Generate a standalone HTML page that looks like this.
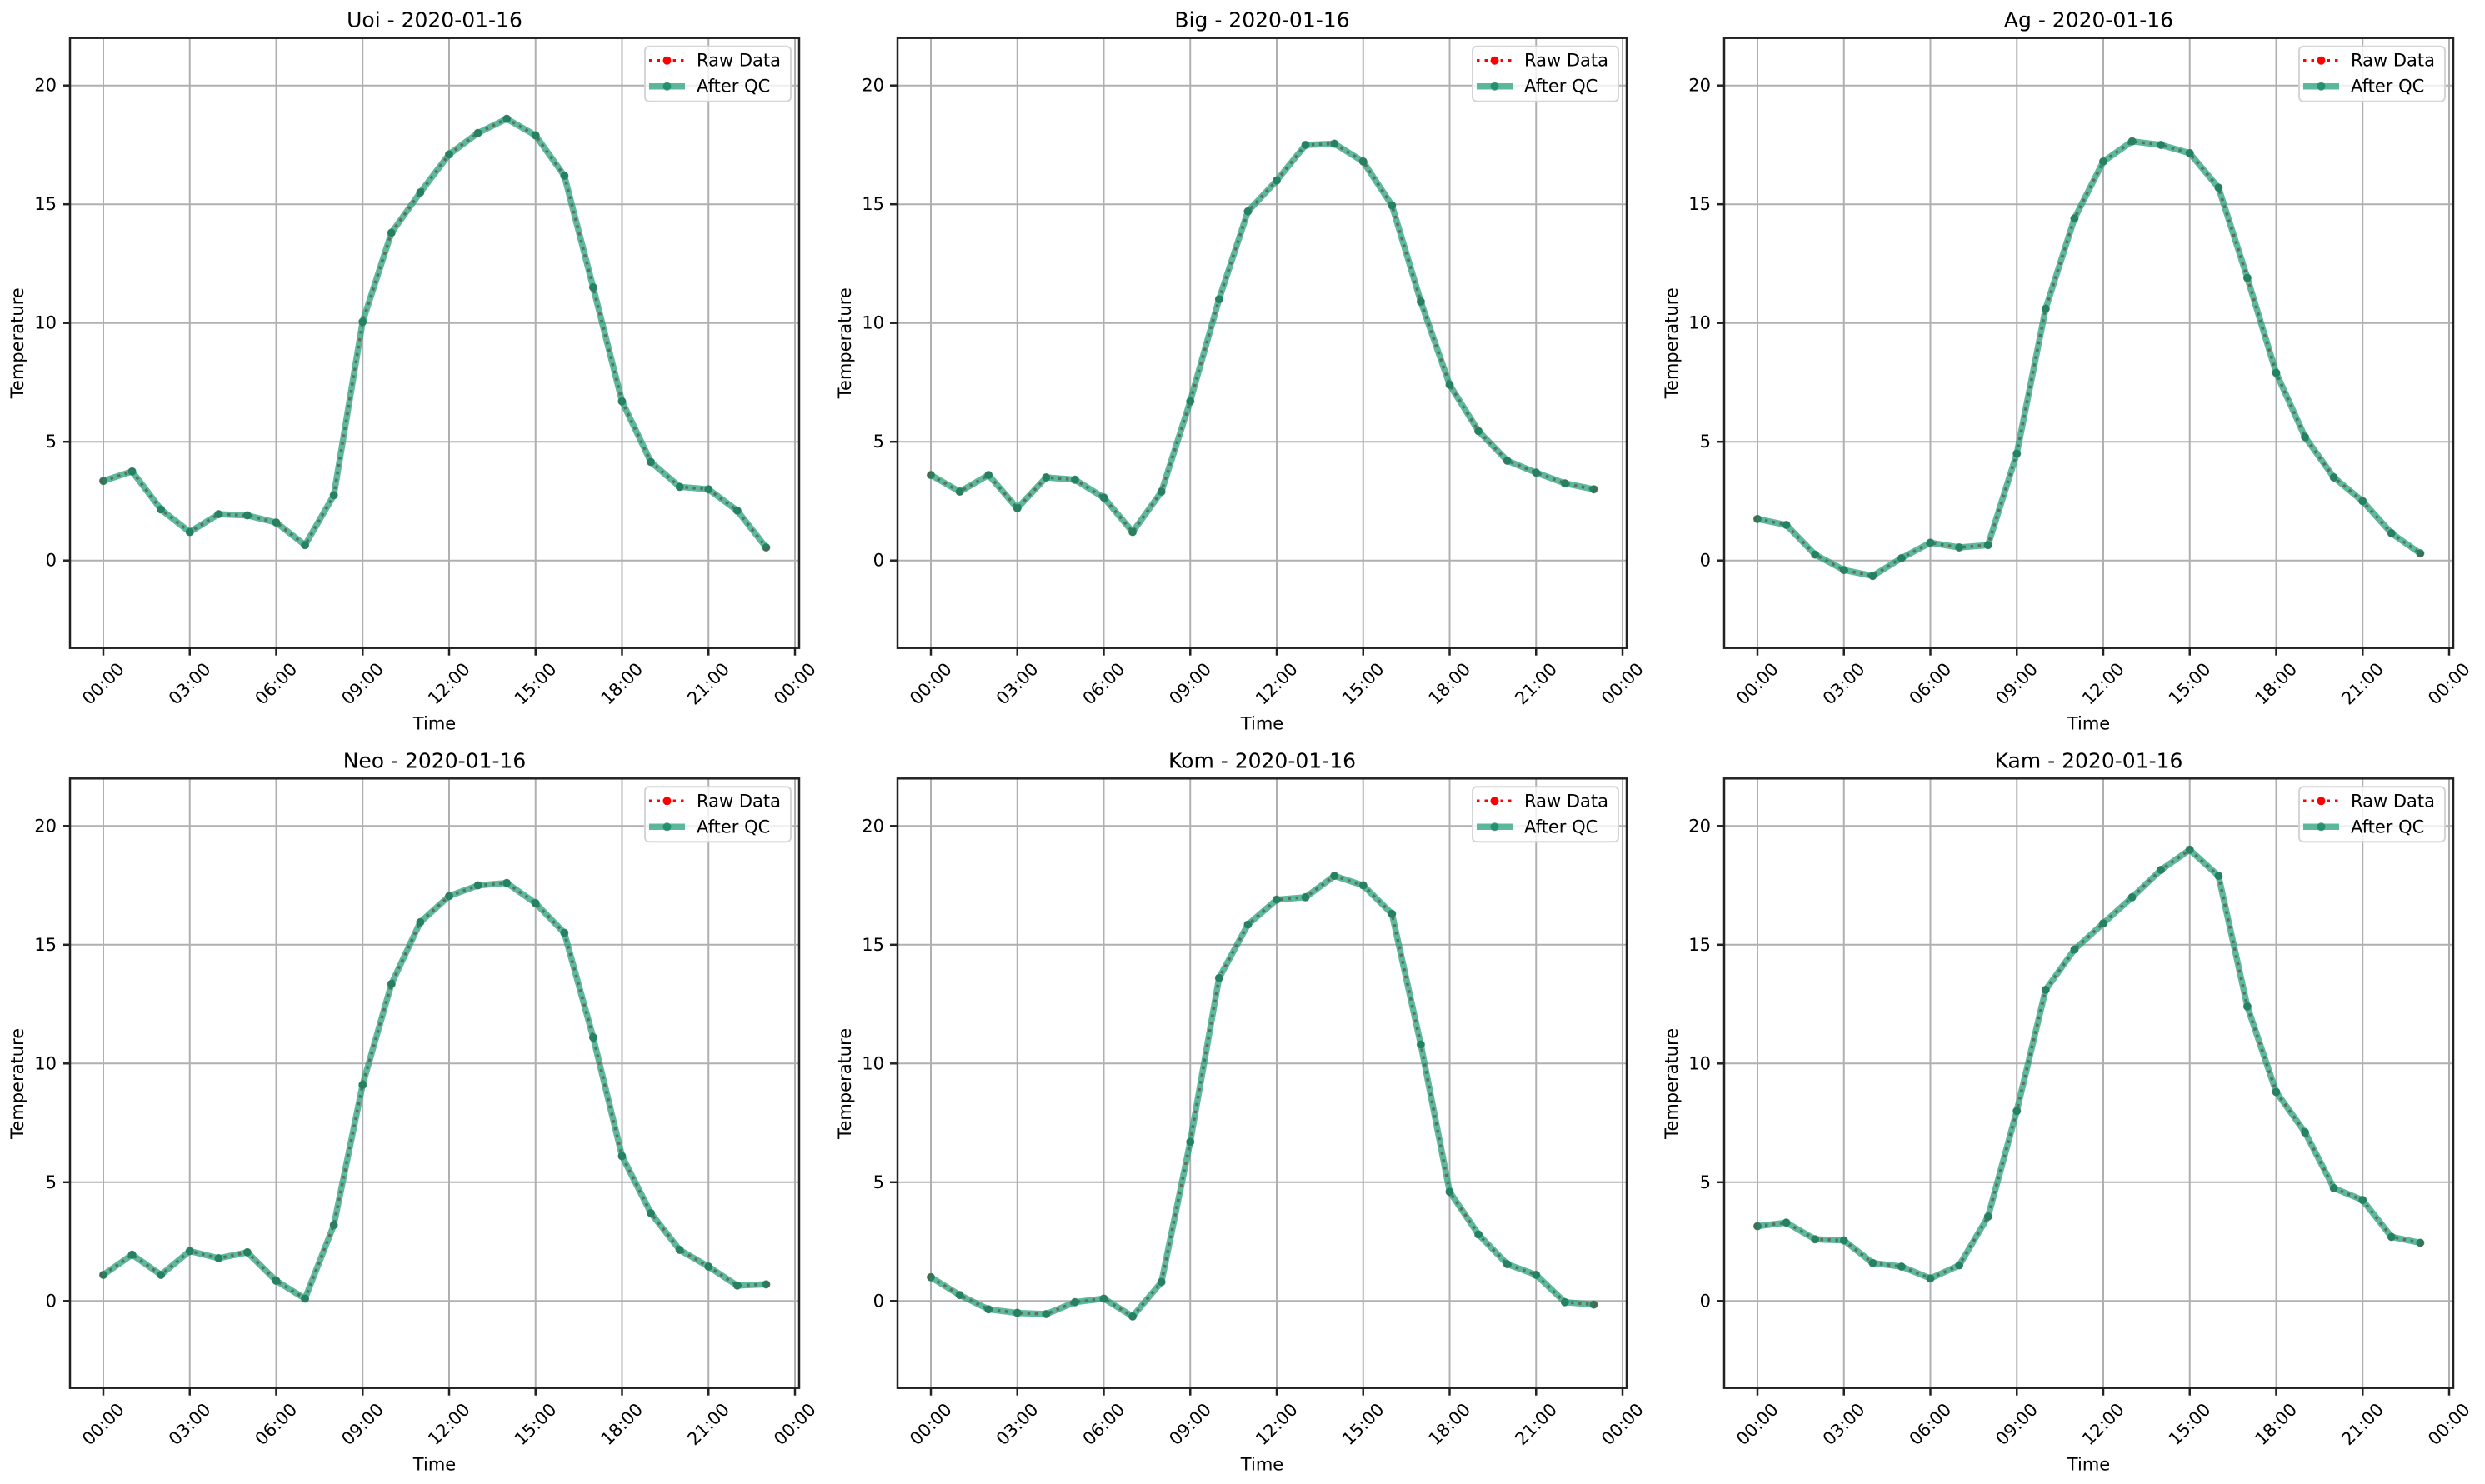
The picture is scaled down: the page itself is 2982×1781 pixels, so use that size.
<!DOCTYPE html>
<html><head><meta charset="utf-8"><style>
html,body{margin:0;padding:0;background:#fff}
svg{display:block}
text{font-family:"DejaVu Sans","Liberation Sans",sans-serif;fill:#000}
.tk{font-size:21px}
.ttl{font-size:25px}
.lbl{font-size:21px}
.lg{font-size:21px}
</style></head><body>
<svg id="s" width="2982" height="1781" viewBox="0 0 2982 1781" xmlns="http://www.w3.org/2000/svg">
<rect width="2982" height="1781" fill="#fff"/>

<g id="p0" transform="translate(84,45.7)">
<g class="grid"></g><g class="ser"></g>
<rect x="0" y="0" width="875" height="732" fill="none" stroke="#222" stroke-width="2.5"/>
<g class="tk">
<text x="-16" y="634" text-anchor="end">0</text><text x="-16" y="491.5" text-anchor="end">5</text><text x="-16" y="349" text-anchor="end">10</text><text x="-16" y="206.5" text-anchor="end">15</text><text x="-16" y="64" text-anchor="end">20</text>
<text transform="translate(40,775) rotate(-45)" text-anchor="middle" dominant-baseline="central">00:00</text>
<text transform="translate(143.7,775) rotate(-45)" text-anchor="middle" dominant-baseline="central">03:00</text>
<text transform="translate(247.5,775) rotate(-45)" text-anchor="middle" dominant-baseline="central">06:00</text>
<text transform="translate(351.2,775) rotate(-45)" text-anchor="middle" dominant-baseline="central">09:00</text>
<text transform="translate(455,775) rotate(-45)" text-anchor="middle" dominant-baseline="central">12:00</text>
<text transform="translate(558.7,775) rotate(-45)" text-anchor="middle" dominant-baseline="central">15:00</text>
<text transform="translate(662.4,775) rotate(-45)" text-anchor="middle" dominant-baseline="central">18:00</text>
<text transform="translate(766.2,775) rotate(-45)" text-anchor="middle" dominant-baseline="central">21:00</text>
<text transform="translate(870,775) rotate(-45)" text-anchor="middle" dominant-baseline="central">00:00</text>
</g>
<text class="lbl" x="437.5" y="830" text-anchor="middle">Time</text>
<text class="lbl" transform="translate(-56,366) rotate(-90)" text-anchor="middle">Temperature</text>
<text class="ttl" x="437.5" y="-13" text-anchor="middle">Uoi - 2020-01-16</text>
<g class="leg"><text class="lg" x="681" y="34">Raw Data</text><text class="lg" x="681" y="65">After QC</text></g>
</g>

<g id="p1" transform="translate(1077,45.7)">
<g class="grid"></g><g class="ser"></g>
<rect x="0" y="0" width="875" height="732" fill="none" stroke="#222" stroke-width="2.5"/>
<g class="tk">
<text x="-16" y="634" text-anchor="end">0</text><text x="-16" y="491.5" text-anchor="end">5</text><text x="-16" y="349" text-anchor="end">10</text><text x="-16" y="206.5" text-anchor="end">15</text><text x="-16" y="64" text-anchor="end">20</text>
<text transform="translate(40,775) rotate(-45)" text-anchor="middle" dominant-baseline="central">00:00</text>
<text transform="translate(143.7,775) rotate(-45)" text-anchor="middle" dominant-baseline="central">03:00</text>
<text transform="translate(247.5,775) rotate(-45)" text-anchor="middle" dominant-baseline="central">06:00</text>
<text transform="translate(351.2,775) rotate(-45)" text-anchor="middle" dominant-baseline="central">09:00</text>
<text transform="translate(455,775) rotate(-45)" text-anchor="middle" dominant-baseline="central">12:00</text>
<text transform="translate(558.7,775) rotate(-45)" text-anchor="middle" dominant-baseline="central">15:00</text>
<text transform="translate(662.4,775) rotate(-45)" text-anchor="middle" dominant-baseline="central">18:00</text>
<text transform="translate(766.2,775) rotate(-45)" text-anchor="middle" dominant-baseline="central">21:00</text>
<text transform="translate(870,775) rotate(-45)" text-anchor="middle" dominant-baseline="central">00:00</text>
</g>
<text class="lbl" x="437.5" y="830" text-anchor="middle">Time</text>
<text class="lbl" transform="translate(-56,366) rotate(-90)" text-anchor="middle">Temperature</text>
<text class="ttl" x="437.5" y="-13" text-anchor="middle">Big - 2020-01-16</text>
<g class="leg"><text class="lg" x="681" y="34">Raw Data</text><text class="lg" x="681" y="65">After QC</text></g>
</g>

<g id="p2" transform="translate(2069,45.7)">
<g class="grid"></g><g class="ser"></g>
<rect x="0" y="0" width="875" height="732" fill="none" stroke="#222" stroke-width="2.5"/>
<g class="tk">
<text x="-16" y="634" text-anchor="end">0</text><text x="-16" y="491.5" text-anchor="end">5</text><text x="-16" y="349" text-anchor="end">10</text><text x="-16" y="206.5" text-anchor="end">15</text><text x="-16" y="64" text-anchor="end">20</text>
<text transform="translate(40,775) rotate(-45)" text-anchor="middle" dominant-baseline="central">00:00</text>
<text transform="translate(143.7,775) rotate(-45)" text-anchor="middle" dominant-baseline="central">03:00</text>
<text transform="translate(247.5,775) rotate(-45)" text-anchor="middle" dominant-baseline="central">06:00</text>
<text transform="translate(351.2,775) rotate(-45)" text-anchor="middle" dominant-baseline="central">09:00</text>
<text transform="translate(455,775) rotate(-45)" text-anchor="middle" dominant-baseline="central">12:00</text>
<text transform="translate(558.7,775) rotate(-45)" text-anchor="middle" dominant-baseline="central">15:00</text>
<text transform="translate(662.4,775) rotate(-45)" text-anchor="middle" dominant-baseline="central">18:00</text>
<text transform="translate(766.2,775) rotate(-45)" text-anchor="middle" dominant-baseline="central">21:00</text>
<text transform="translate(870,775) rotate(-45)" text-anchor="middle" dominant-baseline="central">00:00</text>
</g>
<text class="lbl" x="437.5" y="830" text-anchor="middle">Time</text>
<text class="lbl" transform="translate(-56,366) rotate(-90)" text-anchor="middle">Temperature</text>
<text class="ttl" x="437.5" y="-13" text-anchor="middle">Ag - 2020-01-16</text>
<g class="leg"><text class="lg" x="681" y="34">Raw Data</text><text class="lg" x="681" y="65">After QC</text></g>
</g>

<g id="p3" transform="translate(84,934.3)">
<g class="grid"></g><g class="ser"></g>
<rect x="0" y="0" width="875" height="731.4" fill="none" stroke="#222" stroke-width="2.5"/>
<g class="tk">
<text x="-16" y="634" text-anchor="end">0</text><text x="-16" y="491.5" text-anchor="end">5</text><text x="-16" y="349" text-anchor="end">10</text><text x="-16" y="206.5" text-anchor="end">15</text><text x="-16" y="64" text-anchor="end">20</text>
<text transform="translate(40,775) rotate(-45)" text-anchor="middle" dominant-baseline="central">00:00</text>
<text transform="translate(143.7,775) rotate(-45)" text-anchor="middle" dominant-baseline="central">03:00</text>
<text transform="translate(247.5,775) rotate(-45)" text-anchor="middle" dominant-baseline="central">06:00</text>
<text transform="translate(351.2,775) rotate(-45)" text-anchor="middle" dominant-baseline="central">09:00</text>
<text transform="translate(455,775) rotate(-45)" text-anchor="middle" dominant-baseline="central">12:00</text>
<text transform="translate(558.7,775) rotate(-45)" text-anchor="middle" dominant-baseline="central">15:00</text>
<text transform="translate(662.4,775) rotate(-45)" text-anchor="middle" dominant-baseline="central">18:00</text>
<text transform="translate(766.2,775) rotate(-45)" text-anchor="middle" dominant-baseline="central">21:00</text>
<text transform="translate(870,775) rotate(-45)" text-anchor="middle" dominant-baseline="central">00:00</text>
</g>
<text class="lbl" x="437.5" y="830" text-anchor="middle">Time</text>
<text class="lbl" transform="translate(-56,366) rotate(-90)" text-anchor="middle">Temperature</text>
<text class="ttl" x="437.5" y="-13" text-anchor="middle">Neo - 2020-01-16</text>
<g class="leg"><text class="lg" x="681" y="34">Raw Data</text><text class="lg" x="681" y="65">After QC</text></g>
</g>

<g id="p4" transform="translate(1077,934.3)">
<g class="grid"></g><g class="ser"></g>
<rect x="0" y="0" width="875" height="731.4" fill="none" stroke="#222" stroke-width="2.5"/>
<g class="tk">
<text x="-16" y="634" text-anchor="end">0</text><text x="-16" y="491.5" text-anchor="end">5</text><text x="-16" y="349" text-anchor="end">10</text><text x="-16" y="206.5" text-anchor="end">15</text><text x="-16" y="64" text-anchor="end">20</text>
<text transform="translate(40,775) rotate(-45)" text-anchor="middle" dominant-baseline="central">00:00</text>
<text transform="translate(143.7,775) rotate(-45)" text-anchor="middle" dominant-baseline="central">03:00</text>
<text transform="translate(247.5,775) rotate(-45)" text-anchor="middle" dominant-baseline="central">06:00</text>
<text transform="translate(351.2,775) rotate(-45)" text-anchor="middle" dominant-baseline="central">09:00</text>
<text transform="translate(455,775) rotate(-45)" text-anchor="middle" dominant-baseline="central">12:00</text>
<text transform="translate(558.7,775) rotate(-45)" text-anchor="middle" dominant-baseline="central">15:00</text>
<text transform="translate(662.4,775) rotate(-45)" text-anchor="middle" dominant-baseline="central">18:00</text>
<text transform="translate(766.2,775) rotate(-45)" text-anchor="middle" dominant-baseline="central">21:00</text>
<text transform="translate(870,775) rotate(-45)" text-anchor="middle" dominant-baseline="central">00:00</text>
</g>
<text class="lbl" x="437.5" y="830" text-anchor="middle">Time</text>
<text class="lbl" transform="translate(-56,366) rotate(-90)" text-anchor="middle">Temperature</text>
<text class="ttl" x="437.5" y="-13" text-anchor="middle">Kom - 2020-01-16</text>
<g class="leg"><text class="lg" x="681" y="34">Raw Data</text><text class="lg" x="681" y="65">After QC</text></g>
</g>

<g id="p5" transform="translate(2069,934.3)">
<g class="grid"></g><g class="ser"></g>
<rect x="0" y="0" width="875" height="731.4" fill="none" stroke="#222" stroke-width="2.5"/>
<g class="tk">
<text x="-16" y="634" text-anchor="end">0</text><text x="-16" y="491.5" text-anchor="end">5</text><text x="-16" y="349" text-anchor="end">10</text><text x="-16" y="206.5" text-anchor="end">15</text><text x="-16" y="64" text-anchor="end">20</text>
<text transform="translate(40,775) rotate(-45)" text-anchor="middle" dominant-baseline="central">00:00</text>
<text transform="translate(143.7,775) rotate(-45)" text-anchor="middle" dominant-baseline="central">03:00</text>
<text transform="translate(247.5,775) rotate(-45)" text-anchor="middle" dominant-baseline="central">06:00</text>
<text transform="translate(351.2,775) rotate(-45)" text-anchor="middle" dominant-baseline="central">09:00</text>
<text transform="translate(455,775) rotate(-45)" text-anchor="middle" dominant-baseline="central">12:00</text>
<text transform="translate(558.7,775) rotate(-45)" text-anchor="middle" dominant-baseline="central">15:00</text>
<text transform="translate(662.4,775) rotate(-45)" text-anchor="middle" dominant-baseline="central">18:00</text>
<text transform="translate(766.2,775) rotate(-45)" text-anchor="middle" dominant-baseline="central">21:00</text>
<text transform="translate(870,775) rotate(-45)" text-anchor="middle" dominant-baseline="central">00:00</text>
</g>
<text class="lbl" x="437.5" y="830" text-anchor="middle">Time</text>
<text class="lbl" transform="translate(-56,366) rotate(-90)" text-anchor="middle">Temperature</text>
<text class="ttl" x="437.5" y="-13" text-anchor="middle">Kam - 2020-01-16</text>
<g class="leg"><text class="lg" x="681" y="34">Raw Data</text><text class="lg" x="681" y="65">After QC</text></g>
</g>
</svg>
<script>
var D=[
[3.35,3.75,2.15,1.2,1.95,1.9,1.6,0.65,2.75,10.05,13.8,15.5,17.1,18.0,18.6,17.9,16.2,11.5,6.7,4.15,3.1,3.0,2.1,0.55],
[3.6,2.9,3.6,2.2,3.5,3.4,2.65,1.2,2.9,6.7,11.0,14.7,16.0,17.5,17.55,16.8,14.95,10.9,7.4,5.45,4.2,3.7,3.25,3.0],
[1.75,1.5,0.25,-0.4,-0.65,0.1,0.75,0.55,0.65,4.5,10.6,14.4,16.8,17.65,17.5,17.15,15.7,11.9,7.9,5.2,3.5,2.5,1.15,0.3],
[1.1,1.95,1.1,2.1,1.8,2.05,0.85,0.1,3.2,9.1,13.35,15.95,17.05,17.5,17.6,16.75,15.5,11.1,6.1,3.7,2.15,1.45,0.65,0.7],
[1.0,0.25,-0.35,-0.5,-0.55,-0.05,0.1,-0.65,0.8,6.7,13.6,15.85,16.9,17.0,17.9,17.5,16.3,10.8,4.6,2.8,1.55,1.1,-0.05,-0.15],
[3.15,3.3,2.6,2.55,1.6,1.45,0.95,1.5,3.55,8.0,13.1,14.8,15.9,17.0,18.15,19.0,17.9,12.4,8.8,7.1,4.75,4.25,2.7,2.45]];
var NS="http://www.w3.org/2000/svg";
function el(p,n,a){var e=document.createElementNS(NS,n);for(var k in a)e.setAttribute(k,a[k]);p.appendChild(e);return e;}
function X(h){return 40+h*34.5833;}
function Y(v){return 627-28.5*v;}
var GC="#1f9e78",GO=0.72,MC="#188664";
for(var p=0;p<6;p++){
 var g=document.getElementById("p"+p);
 var H=p<3?732:731.4;
 var gr=g.querySelector(".grid");
 for(var h=0;h<=24;h+=3){var x=X(h);el(gr,"line",{x1:x,y1:0,x2:x,y2:H,stroke:"#b0b0b0","stroke-width":2});el(gr,"line",{x1:x,y1:H,x2:x,y2:H+9,stroke:"#222","stroke-width":2.5});}
 for(var v=0;v<=20;v+=5){var y=Y(v);el(gr,"line",{x1:0,y1:y,x2:875,y2:y,stroke:"#b0b0b0","stroke-width":2});el(gr,"line",{x1:-9,y1:y,x2:0,y2:y,stroke:"#222","stroke-width":2.5});}
 var s=g.querySelector(".ser"),pts=D[p].map(function(v,i){return X(i).toFixed(1)+","+Y(v).toFixed(1);}).join(" ");
 el(s,"polyline",{points:pts,fill:"none",stroke:"#ff0000","stroke-width":3.5,"stroke-dasharray":"3.5 5.5","stroke-linejoin":"round"});
 D[p].forEach(function(v,i){el(s,"circle",{cx:X(i),cy:Y(v),r:4.5,fill:"#ff0000"});});
 el(s,"polyline",{points:pts,fill:"none",stroke:GC,"stroke-opacity":GO,"stroke-width":7.5,"stroke-linejoin":"round"});
 D[p].forEach(function(v,i){el(s,"circle",{cx:X(i),cy:Y(v),r:5,fill:MC,"fill-opacity":0.8});});
 var lg=g.querySelector(".leg");
 var b=el(lg,"rect",{x:875-10-175,y:10,width:175,height:66,rx:5,fill:"#fff","fill-opacity":0.8,stroke:"#d5d5d5","stroke-width":2});
 lg.insertBefore(b,lg.firstChild);
 el(lg,"line",{x1:695,y1:27,x2:738,y2:27,stroke:"#ff0000","stroke-width":3.5,"stroke-dasharray":"3.5 6"});
 el(lg,"circle",{cx:716.5,cy:27,r:5,fill:"#ff0000"});
 el(lg,"line",{x1:695,y1:58,x2:738,y2:58,stroke:GC,"stroke-opacity":GO,"stroke-width":7.5});
 el(lg,"circle",{cx:716.5,cy:58,r:5,fill:MC,"fill-opacity":0.8});
 lg.querySelectorAll("text").forEach(function(t){t.setAttribute("x",752);});
}
</script>
</body></html>
